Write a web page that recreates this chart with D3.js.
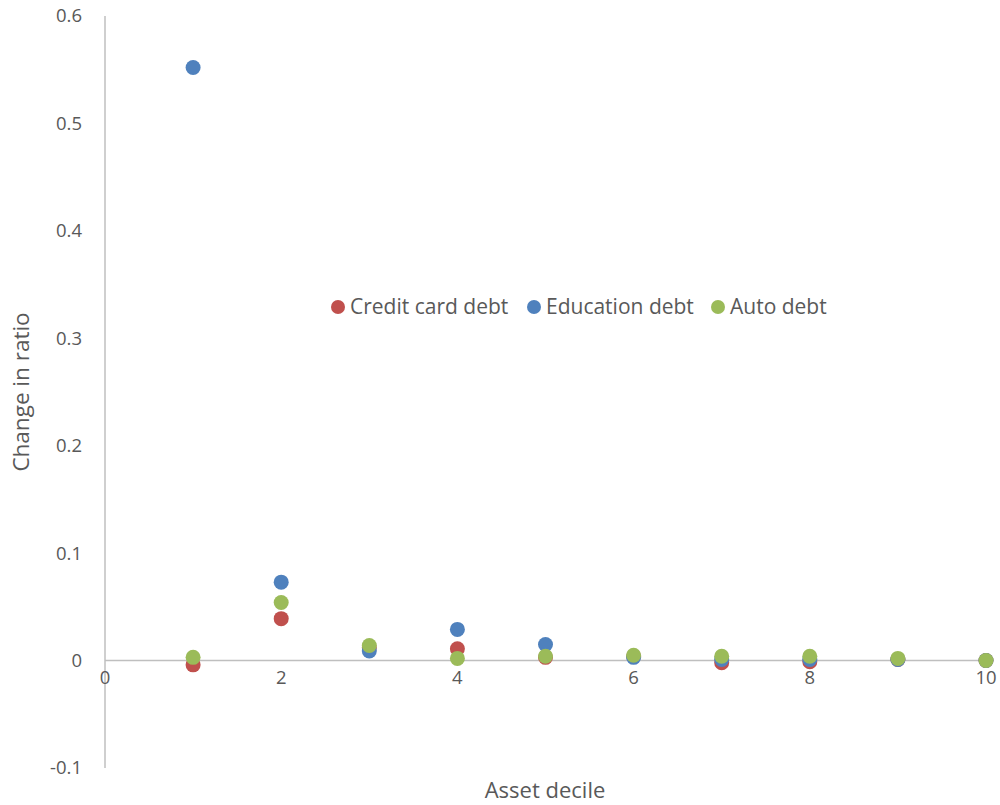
<!DOCTYPE html>
<html><head><meta charset="utf-8">
<script src="https://cdn.jsdelivr.net/npm/d3@7"></script>
<style>body{margin:0;background:#fff}</style>
</head><body>
<svg id="c" width="1000" height="805"></svg>
<script>
const deciles = [1,2,3,4,5,6,7,8,9,10];
const creditCard = [-0.004, 0.039, 0.012, 0.011, 0.003, 0.004, -0.002, -0.001, 0.001, 0.000];
const education  = [0.552, 0.073, 0.009, 0.029, 0.015, 0.003, 0.001, 0.001, 0.001, 0.000];
const auto       = [0.003, 0.054, 0.014, 0.002, 0.004, 0.005, 0.004, 0.004, 0.002, 0.000];
const seriesNames = ["Credit card debt","Education debt","Auto debt"];
const colors = ["#C0504D","#4F81BD","#9BBB59"];
const xTicks = [0,2,4,6,8,10];
const yTickLabels = ["-0.1","0","0.1","0.2","0.3","0.4","0.5","0.6"];

const svg = d3.select("#c");
const font = "'Open Sans', Calibri, sans-serif";
const x = d3.scaleLinear().domain([0,10]).range([105,986]);
const y = d3.scaleLinear().domain([-0.1,0.6]).range([768,16]);

svg.append("line").attr("x1",x(0)).attr("x2",x(0)).attr("y1",y(0.6)).attr("y2",y(-0.1))
  .attr("stroke","#BFBFBF").attr("stroke-width",1.5);
svg.append("line").attr("x1",x(0)).attr("x2",x(10)).attr("y1",y(0)).attr("y2",y(0))
  .attr("stroke","#BFBFBF").attr("stroke-width",1.5);

svg.append("g").selectAll("text").data(yTickLabels).join("text")
  .attr("x",82).attr("y",d=>y(+d)).attr("dy","0.35em").attr("text-anchor","end")
  .attr("font-family",font).attr("font-size",18.5).attr("fill","#595959")
  .text(d=>d);

svg.append("g").selectAll("text").data(xTicks).join("text")
  .attr("x",d=>x(d)).attr("y",y(0)+17).attr("dy","0.35em").attr("text-anchor","middle")
  .attr("font-family",font).attr("font-size",18.5).attr("fill","#595959")
  .text(d=>d);

svg.append("text").attr("x",545).attr("y",798).attr("text-anchor","middle")
  .attr("font-family",font).attr("font-size",22).attr("fill","#595959").text("Asset decile");
svg.append("text").attr("transform","translate(29,392) rotate(-90)").attr("text-anchor","middle")
  .attr("font-family",font).attr("font-size",22.5).attr("fill","#595959").text("Change in ratio");

const all = [creditCard, education, auto];
all.forEach((vals,i)=>{
  svg.append("g").selectAll("circle").data(deciles).join("circle")
    .attr("cx",d=>x(d)).attr("cy",(d,j)=>y(vals[j])).attr("r",7.5).attr("fill",colors[i]);
});

const legX = [338, 534, 718];
seriesNames.forEach((n,i)=>{
  svg.append("circle").attr("cx",legX[i]).attr("cy",307).attr("r",7).attr("fill",colors[i]);
  svg.append("text").attr("x",legX[i]+12).attr("y",307).attr("dy","0.35em")
    .attr("font-family",font).attr("font-size",21).attr("fill","#595959").text(n);
});
</script>
</body></html>
